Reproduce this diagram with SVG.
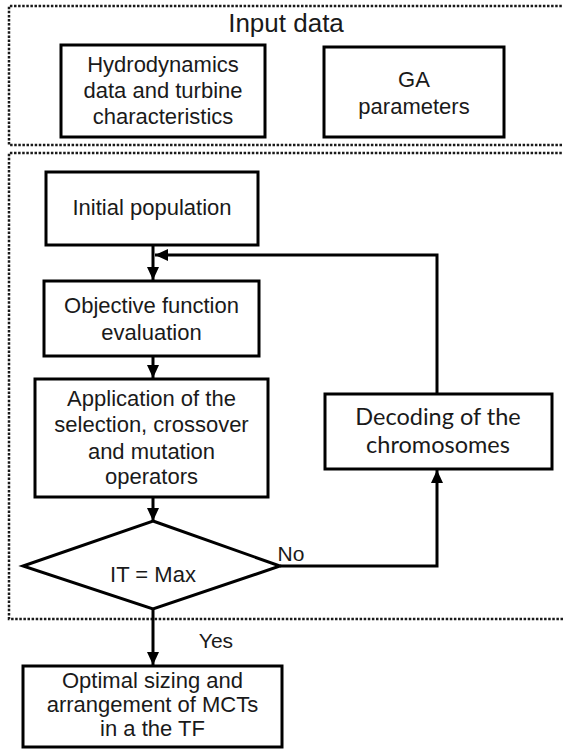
<svg xmlns="http://www.w3.org/2000/svg" width="563" height="749" viewBox="0 0 563 749">
<style>
.frame{fill:none;stroke:#1a1a1a;stroke-width:2.5;stroke-dasharray:2.5 1.6}
.box{fill:#fff;stroke:#000;stroke-width:3}
.conn{fill:none;stroke:#000;stroke-width:3}
.t{font-family:"Liberation Sans",Arial,sans-serif;font-size:22px;fill:#1a1a1a;text-anchor:middle}
.c{font-family:Lato,"Open Sans",sans-serif;font-size:23.5px;fill:#1a1a1a;text-anchor:middle}
</style>
<defs>
<marker id="ah" markerUnits="userSpaceOnUse" markerWidth="14" markerHeight="14" viewBox="0 0 14 14" refX="13" refY="7" orient="auto">
<path d="M0,1 L13,7 L0,13 Z" fill="#000"/>
</marker>
</defs>
<rect width="563" height="749" fill="#fff"/>
<g id="frames">
<path class="frame" d="M570,6 H9 V145 H570"/>
<path class="frame" d="M570,153 H9 V619 H570"/>
</g>
<g id="title"><text x="286" y="32" style="font-family:'Liberation Sans',Arial,sans-serif;font-size:26px;fill:#1a1a1a;text-anchor:middle">Input data</text></g>
<g id="hydro">
<rect class="box" x="61" y="45" width="204" height="92"/>
<text class="t" x="163" y="72">Hydrodynamics</text>
<text class="t" x="163" y="98">data and turbine</text>
<text class="t" x="163" y="124">characteristics</text>
</g>
<g id="ga">
<rect class="box" x="324" y="47" width="180" height="90"/>
<text class="t" x="414" y="87">GA</text>
<text class="t" x="414" y="114">parameters</text>
</g>
<g id="init">
<rect class="box" x="46" y="172" width="212" height="73"/>
<text class="t" x="152" y="215">Initial population</text>
</g>
<g id="objective">
<rect class="box" x="44" y="281" width="215" height="75"/>
<text class="t" x="151.5" y="313">Objective function</text>
<text class="t" x="151.5" y="340">evaluation</text>
</g>
<g id="operators">
<rect class="box" x="35" y="379" width="233" height="118"/>
<text class="t" x="151.5" y="406">Application of the</text>
<text class="t" x="151.5" y="432">selection, crossover</text>
<text class="t" x="151.5" y="459">and mutation</text>
<text class="t" x="151.5" y="484">operators</text>
</g>
<g id="decoding">
<rect class="box" x="325" y="394" width="227" height="75"/>
<text class="c" x="438" y="425">Decoding of the</text>
<text class="c" x="438" y="453">chromosomes</text>
</g>
<g id="decision">
<polygon class="box" points="153,521 280,566 153,609 23,566"/>
<text class="t" x="153" y="582">IT = Max</text>
</g>
<g id="result">
<rect class="box" x="23" y="666" width="259" height="81"/>
<text class="t" x="152.5" y="688">Optimal sizing and</text>
<text class="t" x="152.5" y="712">arrangement of MCTs</text>
<text class="t" x="152.5" y="736">in a the TF</text>
</g>
<g id="connectors">
<line class="conn" x1="153" y1="245" x2="153" y2="280" marker-end="url(#ah)"/>
<line class="conn" x1="153" y1="356" x2="153" y2="378" marker-end="url(#ah)"/>
<line class="conn" x1="153" y1="497" x2="153" y2="521" marker-end="url(#ah)"/>
<line class="conn" x1="153" y1="609" x2="153" y2="665" marker-end="url(#ah)"/>
<polyline class="conn" points="280,566 437,566 437,470" marker-end="url(#ah)"/>
<polyline class="conn" points="437,394 437,255 155,255" marker-end="url(#ah)"/>
<text class="t" x="291" y="561" style="font-size:21px">No</text>
<text class="t" x="216" y="648" style="font-size:21px">Yes</text>
</g>
</svg>
